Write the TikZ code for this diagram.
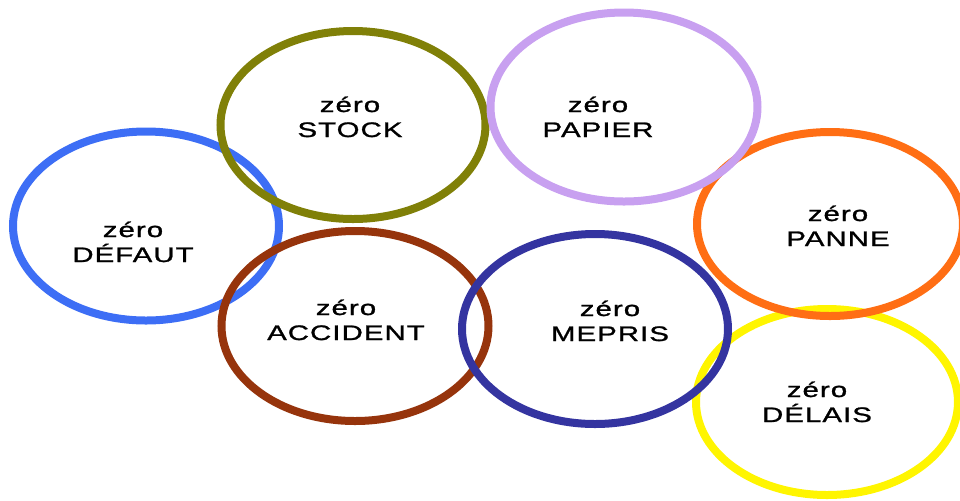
\documentclass[tikz,border=0pt]{standalone}
\usepackage{fontspec}
\usepackage{tikz}
\usetikzlibrary{positioning}
\newfontfamily\ringfont[FakeStretch=1.4, FakeBold=1.2, LetterSpace=5]{Liberation Sans}

\definecolor{ringblue}{RGB}{61,110,245}
\definecolor{ringolive}{RGB}{128,128,8}
\definecolor{ringlilac}{RGB}{200,160,240}
\definecolor{ringorange}{RGB}{255,110,20}
\definecolor{ringbrown}{RGB}{150,52,12}
\definecolor{ringnavy}{RGB}{52,52,160}
\definecolor{ringyellow}{RGB}{255,245,0}

\tikzset{
  ring/.style={line width=4pt},
  ringtext/.style={font=\ringfont\fontsize{10.5}{12.5}\selectfont,
    align=center, inner sep=0pt, anchor=base}
}

\begin{document}
\begin{tikzpicture}[x=0.5pt, y=-0.5pt]
        \useasboundingbox (0,0) rectangle (960,500);

        % Rings
        \draw[ring, ringyellow] (827,402) ellipse (131 and 93);
        \draw[ring, ringblue] (146,226) ellipse (133 and 94.5);
        \draw[ring, ringbrown] (355,326) ellipse (133.5 and 95);
        \draw[ring, ringolive] (353,125) ellipse (132.5 and 94);
        \draw[ring, ringorange] (830,224) ellipse (133 and 92);
        \draw[ring, ringlilac] (624,107) ellipse (133.5 and 94.5);
        \draw[ring, ringnavy] (595,329) ellipse (133 and 95);

        % Labels (base = last line)
        \node[ringtext] (defaut) at (133,262) {zéro\\DÉFAUT};
        \node[ringtext] (stock) at (350,137) {zéro\\STOCK};
        \node[ringtext] (papier) at (598,137) {zéro\\PAPIER};
        \node[ringtext] (panne) at (838,246) {zéro\\PANNE};
        \node[ringtext] (accident) at (346,340) {zéro\\ACCIDENT};
        \node[ringtext] (mepris) at (610,341) {zéro\\MEPRIS};
        \node[ringtext] (delais) at (817,422) {zéro\\DÉLAIS};
    \end{tikzpicture}
\end{document}
